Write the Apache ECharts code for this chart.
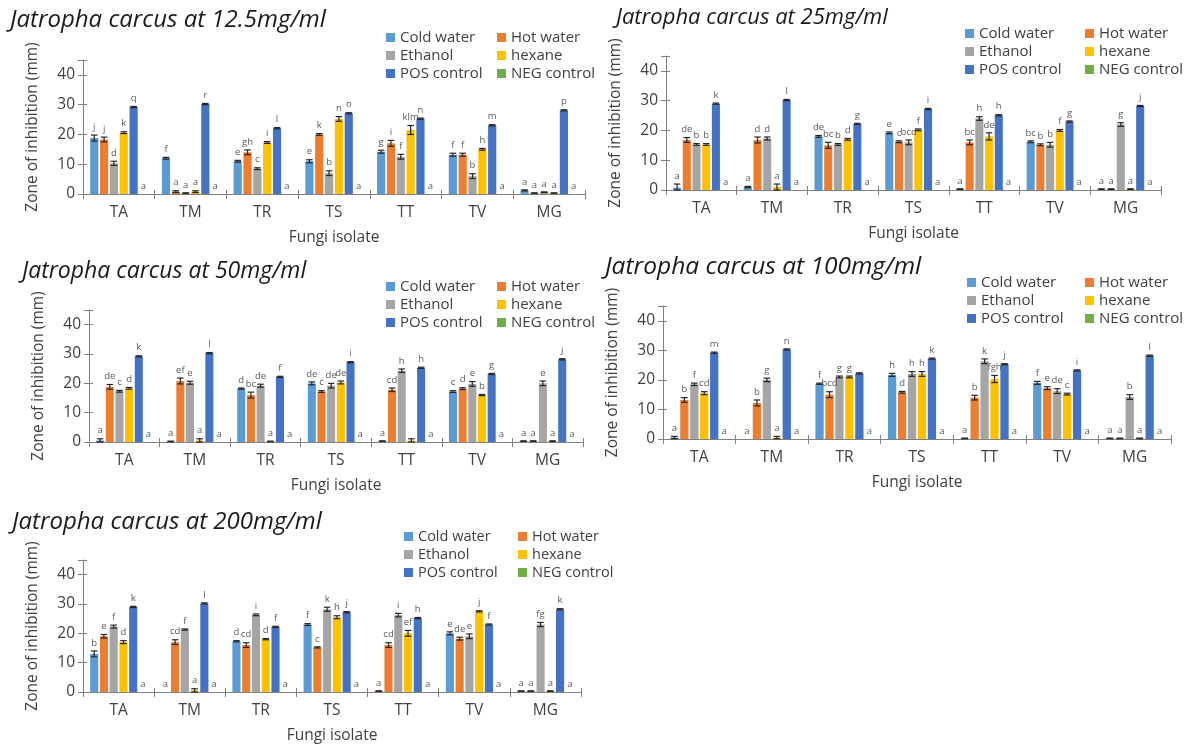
<!DOCTYPE html>
<html><head><meta charset="utf-8">
<script src="https://cdn.jsdelivr.net/npm/echarts@6/dist/echarts.min.js"></script>
<style>html,body{margin:0;padding:0;background:#fff}#c{width:1189px;height:747px}</style>
</head><body><div id="c"></div>
<script>
// ---------- DATA ----------
const categories = ['TA','TM','TR','TS','TT','TV','MG'];
const seriesNames = ['Cold water','Hot water','Ethanol','hexane','POS control','NEG control'];
const yTicks = [0,10,20,30,40];
const panelTitles = ['Jatropha carcus at 12.5mg/ml','Jatropha carcus at 25mg/ml','Jatropha carcus at 50mg/ml','Jatropha carcus at 100mg/ml','Jatropha carcus at 200mg/ml'];

// values order: [Cold water, Hot water, Ethanol, hexane, POS control, NEG control], each over categories
const values12 = [
  [18.8, 12, 11, 11, 14.2, 13.2, 1.2],
  [18.3, 0.8, 14, 20, 17, 13.2, 0.3],
  [10.3, 0.3, 8.5, 7, 12.5, 6, 0.6],
  [20.6, 0.8, 17.3, 25.2, 21.5, 15, 0.3],
  [29.2, 30.2, 22.1, 27.1, 25.3, 23.1, 28.1],
  [0, 0, 0, 0, 0, 0, 0]
];
const errors12 = [
  [1, 0.3, 0.3, 0.5, 0.5, 0.5, 0.2],
  [0.8, 0.3, 0.8, 0.3, 1, 0.5, 0.1],
  [0.7, 0.1, 0.3, 0.8, 0.8, 0.8, 0.1],
  [0.3, 0.3, 0.3, 0.8, 1.5, 0.3, 0.1],
  [0.2, 0.2, 0.2, 0.2, 0.2, 0.2, 0.2],
  [0, 0, 0, 0, 0, 0, 0]
];
const letters12 = [
  ['j','f','e','e','g','f','a'],
  ['j','a','gh','k','i','f','a'],
  ['d','a','c','b','f','b','a'],
  ['k','a','i','n','klm','h','a'],
  ['q','r','l','o','n','m','p'],
  ['a','a','a','a','a','a','a']
];

const values25 = [
  [0.8, 1, 18, 19.2, 0.3, 16.2, 0.3],
  [16.8, 16.8, 15, 16.2, 16, 15.2, 0.3],
  [15.3, 17.3, 15.3, 16, 24, 15.2, 22],
  [15.3, 1, 17, 20.2, 18, 20, 0.3],
  [29, 30.2, 22.2, 27.2, 25.1, 23, 28.2],
  [0, 0, 0, 0, 0, 0, 0]
];
const errors25 = [
  [1.2, 0.2, 0.3, 0.3, 0.1, 0.3, 0.1],
  [0.8, 1, 1, 0.3, 0.8, 0.3, 0.1],
  [0.3, 0.5, 0.3, 0.8, 0.6, 0.8, 0.6],
  [0.3, 1, 0.3, 0.3, 1.2, 0.3, 0.1],
  [0.2, 0.2, 0.2, 0.2, 0.2, 0.2, 0.2],
  [0, 0, 0, 0, 0, 0, 0]
];
const letters25 = [
  ['a','a','de','e','a','bc','a'],
  ['de','d','bc','c','bc','b','a'],
  ['b','d','b','bcd','h','b','g'],
  ['b','a','d','f','de','f','a'],
  ['k','l','g','i','h','g','j'],
  ['a','a','a','a','a','a','a']
];

const values50 = [
  [0.5, 0.2, 18.2, 20, 0.3, 17.2, 0.3],
  [18.8, 20.8, 16, 17.2, 17.8, 18.2, 0.3],
  [17.3, 20.2, 19.2, 19.2, 24.3, 19.8, 20],
  [18.3, 0.5, 0.2, 20.3, 0.5, 16, 0.3],
  [29.2, 30.3, 22.2, 27.2, 25.3, 23.2, 28.2],
  [0, 0, 0, 0, 0, 0, 0]
];
const errors50 = [
  [0.6, 0.1, 0.2, 0.5, 0.1, 0.3, 0.1],
  [0.8, 1, 1, 0.3, 0.6, 0.3, 0.1],
  [0.3, 0.5, 0.5, 0.8, 0.6, 0.8, 0.8],
  [0.3, 0.6, 0.1, 0.5, 0.6, 0.2, 0.1],
  [0.2, 0.2, 0.2, 0.2, 0.2, 0.2, 0.2],
  [0, 0, 0, 0, 0, 0, 0]
];
const letters50 = [
  ['a','a','d','de','a','c','a'],
  ['de','ef','bc','c','cd','d','a'],
  ['c','e','de','de','h','e','e'],
  ['d','a','a','de','','b','a'],
  ['k','l','f','i','h','g','j'],
  ['a','a','a','a','a','a','a']
];

const values100 = [
  [0.5, 0, 18.7, 21.7, 0.2, 19, 0.2],
  [13.2, 12.2, 15, 15.8, 14, 17.2, 0.2],
  [18.5, 20, 21, 22, 26.3, 16.2, 14.2],
  [15.5, 0.5, 21, 22, 20.3, 15.2, 0.2],
  [29.2, 30.3, 22.2, 27.2, 25.3, 23.2, 28.2],
  [0, 0, 0, 0, 0, 0, 0]
];
const errors100 = [
  [0.4, 0, 0.2, 0.5, 0.1, 0.5, 0.1],
  [0.8, 1, 1, 0.3, 0.8, 0.5, 0.1],
  [0.4, 0.6, 0.3, 0.8, 0.8, 0.8, 0.8],
  [0.5, 0.4, 0.3, 0.8, 1.2, 0.3, 0.1],
  [0.2, 0.2, 0.2, 0.2, 0.2, 0.2, 0.2],
  [0, 0, 0, 0, 0, 0, 0]
];
const letters100 = [
  ['a','a','f','h','a','f','a'],
  ['b','b','bcd','d','b','e','a'],
  ['f','g','g','h','k','de','b'],
  ['cd','a','g','h','fgh','c','a'],
  ['m','n','','k','j','i','l'],
  ['a','a','a','a','a','a','a']
];

const values200 = [
  [13, 0, 17.3, 23, 0.3, 20, 0.3],
  [19, 17, 16, 15.2, 16, 18.2, 0.3],
  [22.3, 21.3, 26.3, 28.2, 26.2, 19, 23],
  [17, 0.5, 18, 25.5, 20, 27.5, 0.3],
  [29, 30.2, 22.2, 27.2, 25.2, 23, 28.2],
  [0, 0, 0, 0, 0, 0, 0]
];
const errors200 = [
  [1, 0, 0.2, 0.3, 0.1, 0.5, 0.1],
  [0.6, 0.8, 0.8, 0.2, 0.8, 0.5, 0.1],
  [0.5, 0.2, 0.3, 0.7, 0.6, 0.8, 0.7],
  [0.5, 0.6, 0.2, 0.5, 1, 0.2, 0.1],
  [0.2, 0.2, 0.2, 0.2, 0.2, 0.2, 0.2],
  [0, 0, 0, 0, 0, 0, 0]
];
const letters200 = [
  ['b','a','d','f','a','e','a'],
  ['e','cd','cd','c','cd','de','a'],
  ['f','f','i','k','i','e','fg'],
  ['d','a','d','h','ef','j','a'],
  ['k','l','f','j','h','f','k'],
  ['a','a','a','a','a','a','a']
];

// ---------- LAYOUT / STYLE ----------
const colors = ['#5B9BD5','#ED7D31','#A5A5A5','#FFC000','#4472C4','#70AD47'];
const FONT = '"Open Sans", "Liberation Sans", sans-serif';
const CAT_GAP = 0.2, BAR_GAP = 0.2;
const panels = [
  {vals: values12,  errs: errors12,  lets: letters12,  grid:{left:83, top:60, width:502, height:134}, title:{left:10, top:8, size:24},  leg:[386,30,497,15]},
  {vals: values25,  errs: errors25,  lets: letters25,  grid:{left:666, top:56, width:495, height:134}, title:{left:616, top:7, size:22}, leg:[965,26,1085,15]},
  {vals: values50,  errs: errors50,  lets: letters50,  grid:{left:89, top:310, width:494, height:132}, title:{left:22, top:260, size:23}, leg:[386,279,497,15]},
  {vals: values100, errs: errors100, lets: letters100, grid:{left:663, top:306, width:508, height:133}, title:{left:605, top:255, size:24.5}, leg:[967,275,1085,15]},
  {vals: values200, errs: errors200, lets: letters200, grid:{left:83, top:560, width:498, height:132}, title:{left:12, top:510, size:24}, leg:[404,529,518,14.5]}
];

const option = {
  animation: false,
  backgroundColor: '#fff',
  textStyle: {fontFamily: FONT},
  title: [], legend: [], grid: [], xAxis: [], yAxis: [], series: []
};

panels.forEach((p, pi) => {
  option.title.push({
    text: panelTitles[pi], left: p.title.left, top: p.title.top, padding: 0,
    textStyle: {fontStyle: 'italic', fontWeight: 'normal', fontSize: p.title.size, color: '#1a1a1a', fontFamily: FONT}
  });
  const legBase = {
    orient: 'vertical', top: p.leg[1], itemWidth: 9, itemHeight: 9, itemGap: 3, icon: 'rect',
    selectedMode: false, padding: 0,
    textStyle: {fontSize: p.leg[3], color: '#404040', fontFamily: FONT, lineHeight: 15}
  };
  option.legend.push(Object.assign({}, legBase, {left: p.leg[0], data: [seriesNames[0], seriesNames[2], seriesNames[4]]}));
  option.legend.push(Object.assign({}, legBase, {left: p.leg[2], data: [seriesNames[1], seriesNames[3], seriesNames[5]]}));
  option.grid.push(Object.assign({containLabel: false, outerBoundsMode: 'none'}, p.grid));
  option.xAxis.push({
    type: 'category', gridIndex: pi, data: categories, position: 'bottom',
    name: 'Fungi isolate', nameLocation: 'middle', nameGap: 36,
    nameTextStyle: {fontSize: 15.5, color: '#404040', fontFamily: FONT},
    axisLine: {show: true, lineStyle: {color: '#808080', width: 1}},
    axisTick: {show: true, length: 5, lineStyle: {color: '#808080'}},
    axisLabel: {fontSize: 15.5, color: '#404040', margin: 11, fontFamily: FONT},
    splitLine: {show: false}
  });
  option.yAxis.push({
    type: 'value', gridIndex: pi, min: 0, max: 45, interval: 10, position: 'left',
    name: 'Zone of inhibition (mm)', nameLocation: 'middle', nameGap: 42, nameRotate: 90,
    nameTextStyle: {fontSize: 15.5, color: '#404040', fontFamily: FONT},
    axisLine: {show: true, lineStyle: {color: '#808080', width: 1}},
    axisTick: {show: true, length: 5, lineStyle: {color: '#808080'}},
    axisLabel: {fontSize: 15.5, color: '#404040', margin: 8, fontFamily: FONT,
      formatter: v => (yTicks.indexOf(v) >= 0 ? String(v) : '')},
    splitLine: {show: false}
  });
  seriesNames.forEach((nm, s) => {
    option.series.push({
      type: 'bar', name: nm, xAxisIndex: pi, yAxisIndex: pi,
      data: p.vals[s], itemStyle: {color: colors[s]},
      barCategoryGap: (CAT_GAP * 100) + '%', barGap: (BAR_GAP * 100) + '%',
      silent: true
    });
  });
  const data = [];
  for (let s = 0; s < 6; s++) for (let i = 0; i < categories.length; i++)
    data.push([i, s, p.vals[s][i], p.errs[s][i]]);
  const lets = p.lets;
  option.series.push({
    type: 'custom', name: 'err' + pi, xAxisIndex: pi, yAxisIndex: pi, z: 5, silent: true,
    encode: {x: 0, y: 2}, data: data,
    renderItem: function (params, api) {
      const i = api.value(0), s = api.value(1), v = api.value(2), e = api.value(3);
      const band = api.size([1, 0])[0];
      const total = band * (1 - CAT_GAP);
      const bw = total / (6 + 5 * BAR_GAP);
      const cx = api.coord([i, 0])[0];
      const x = cx - total / 2 + s * bw * (1 + BAR_GAP) + bw / 2;
      const yTop = api.coord([i, v + e])[1];
      const yBot = api.coord([i, Math.max(0, v - e)])[1];
      const cap = bw * 0.4;
      const st = {stroke: '#262626', lineWidth: 1.2};
      const children = [];
      if (e > 0) {
        children.push({type: 'line', shape: {x1: x, y1: yTop, x2: x, y2: yBot}, style: st});
        children.push({type: 'line', shape: {x1: x - cap, y1: yTop, x2: x + cap, y2: yTop}, style: st});
        children.push({type: 'line', shape: {x1: x - cap, y1: yBot, x2: x + cap, y2: yBot}, style: st});
      }
      const t = lets[s][i];
      if (t) children.push({type: 'text', style: {text: t, x: x, y: yTop - 3, align: 'center', verticalAlign: 'bottom',
        textAlign: 'center', textVerticalAlign: 'bottom', fill: '#595959', fontSize: 9.5, fontFamily: FONT}});
      return {type: 'group', children: children};
    }
  });
});

// inner halves of the crossing tick marks (overlay axes, no labels)
panels.forEach((p, pi) => {
  option.xAxis.push({
    type: 'category', gridIndex: pi, data: categories, position: 'bottom', offset: 0,
    axisLine: {show: false}, axisLabel: {show: false}, splitLine: {show: false},
    axisTick: {show: true, inside: true, length: 4, lineStyle: {color: '#808080'}}
  });
  option.yAxis.push({
    type: 'value', gridIndex: pi, min: 0, max: 45, interval: 10, position: 'left', offset: 0,
    axisLine: {show: false}, axisLabel: {show: false}, splitLine: {show: false},
    axisTick: {show: true, inside: true, length: 4, lineStyle: {color: '#808080'}}
  });
});

const chart = echarts.init(document.getElementById('c'), null, {renderer: 'canvas'});
chart.setOption(option);
</script>
</body></html>
